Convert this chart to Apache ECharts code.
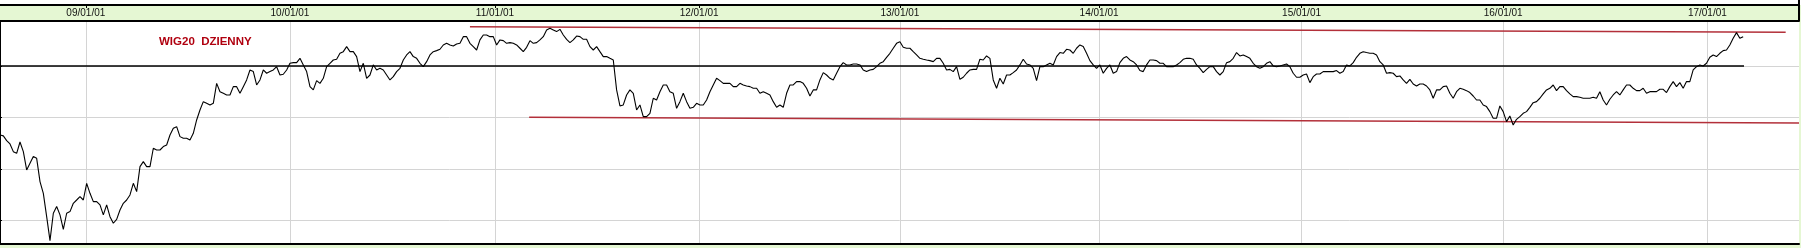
<!DOCTYPE html>
<html><head><meta charset="utf-8">
<script src="https://cdn.jsdelivr.net/npm/echarts@6/dist/echarts.min.js"></script>
<style>html,body{margin:0;padding:0;background:#e5f7d3;overflow:hidden}#c{width:1801px;height:248px}</style>
</head><body><div id="c"></div>
<script>
// WIG20 daily closes, sampled every 4 sessions (index points)
const sessionStep = 4;
const closes2008_09 = [2329,2320,2274,2242,2167,2151,2261,2167,1989,2054,2119,2102,1876,1762,1535,1302,1568,1633,1552,1412,1568,1584,1665,1697,1730,1697,1859,1762,1681,1681,1649,1552,1649,1535,1471,1509,1600,1665,1697,1746,1859,1778,2021,2070,2021,2021,2200,2183,2183,2216,2232,2329,2394,2410,2313,2297,2297,2281,2345,2475,2572,2653,2637,2621,2637,2831,2750,2734,2718,2718,2799,2799,2734,2799,2864];
const closes2009_10 = [2961,2945,2815,2864,2961,2929,2945,2961,2993,2912,2919,2961,3026,3032,3032,3074,3010,2945,2799,2767,2857,2831,2880,2993,3026,3058,3065,3123,3139,3188,3139,3139,3091,2945,3026,2880,2912,3010,2961,2977,2961,2912,2864,2896,2945,2977,3058,3107,3139,3091,3074,3026,2993,3042,3107,3139,3149,3162,3204,3220,3204,3194,3214,3220,3285,3285,3220,3188,3155,3253,3301,3301,3285,3285,3204];
const closes2011_12 = [3253,3246,3220,3227,3220,3204,3172,3139,3181,3246,3220,3227,3253,3285,3350,3366,3350,3334,3356,3301,3259,3227,3253,3291,3285,3259,3259,3188,3155,3188,3139,3091,3091,3074,3058,2767,2611,2621,2718,2767,2734,2572,2621,2507,2507,2540,2686,2669,2750,2815,2815,2750,2734,2588,2653,2734,2653,2588,2598,2637,2621,2621,2669,2750,2815,2880,2857,2831,2831,2831,2799,2799,2831,2815,2805];
const closes2012_13 = [2799,2783,2783,2734,2750,2734,2718,2653,2598,2621,2598,2734,2815,2815,2848,2848,2831,2783,2708,2767,2767,2864,2935,2912,2880,2864,2929,2993,3032,3010,3010,3019,3019,3010,2961,2945,2961,2967,2993,3026,3042,3084,3123,3172,3220,3236,3181,3172,3172,3139,3107,3074,3065,3058,3052,3042,3074,3074,3026,2961,2967,2945,2993,2870,2890,2929,2961,2967,2967,3065,3058,3097,3074,2864,2783];
const closes2013_14 = [2880,2825,2912,2912,2935,2961,3010,3065,3019,3010,2977,2857,2993,2993,3010,3026,3010,3091,3130,3123,3162,3155,3123,3172,3204,3188,3123,3052,3010,2977,3010,2929,2977,3010,2929,2945,3032,3074,3091,3058,3042,3010,2955,2945,3010,3058,3058,3052,3026,3026,2993,2993,2993,3010,3032,3065,3074,3074,3065,3010,2977,2935,2967,2993,2993,2945,2912,2945,3032,3042,3074,3130,3097,3107,3091];
const closes2014_15 = [3074,3026,2993,2977,2993,3026,3042,3000,2993,3000,3010,3019,2993,2929,2890,2890,2912,2922,2838,2896,2922,2922,2945,2945,2945,2945,2955,2929,2945,3010,3000,3032,3084,3123,3139,3130,3123,3123,3107,3042,3010,2929,2935,2929,2896,2903,2864,2831,2870,2825,2805,2825,2825,2805,2767,2686,2767,2767,2799,2805,2734,2686,2750,2783,2773,2760,2741,2708,2669,2669,2621,2605,2556,2491,2491];
const closes2016_17 = [2611,2556,2459,2514,2426,2481,2507,2540,2556,2598,2643,2653,2686,2728,2767,2783,2815,2760,2799,2799,2760,2728,2702,2702,2695,2686,2686,2686,2695,2686,2750,2669,2621,2676,2718,2750,2718,2767,2815,2815,2783,2760,2760,2783,2734,2750,2750,2750,2773,2773,2741,2799,2848,2799,2838,2783,2848,2848,2961,2993,3010,3000,3026,3084,3107,3091,3123,3149,3155,3204,3269,3324,3269,3285];

const yearTickSessions = [103, 348, 594, 839, 1080, 1319, 1562, 1804, 2049];
const yearTickLabels = ['09/01/01','10/01/01','11/01/01','12/01/01','13/01/01','14/01/01','15/01/01','16/01/01','17/01/01'];
const gridLevels = [1500, 2000, 2500, 3000];
const sessionRange = [0, 2159];
const valueRange = [1276, 3437];
const resistanceLine = [[564, 3381], [2143, 3327]];
const supportLine = [[635, 2501], [2159, 2446]];
const referenceLevel = [[0, 3000], [2093, 3000]];
const titleText = 'WIG20  DZIENNY';

const closes = [].concat(closes2008_09, closes2009_10, closes2011_12, closes2012_13, closes2013_14, closes2014_15, closes2016_17);
const seriesData = closes.map((v, i) => [i * sessionStep, v]);

const chart = echarts.init(document.getElementById('c'), null, {renderer: 'canvas'});
const FONT = '"Liberation Sans", Arial, sans-serif';
const baseX = {
  type: 'value', min: sessionRange[0], max: sessionRange[1], gridIndex: 0,
  axisLabel: {show: false}, axisTick: {show: false}, splitLine: {show: false},
  axisLine: {show: true, lineStyle: {color: '#000', width: 2}}
};
const redLine = {color: '#b3303a', width: 1.6, type: 'solid'};
chart.setOption({
  animation: false,
  backgroundColor: '#e5f7d3',
  title: {
    text: titleText, left: 154, top: 31,
    textStyle: {color: '#b0000f', fontSize: 11.5, fontWeight: 'bold', fontFamily: FONT}
  },
  graphic: [
    {type: 'rect', z: -10, shape: {x: 0, y: 0, width: 1801, height: 5}, style: {fill: '#fff'}},
    {type: 'line', z: 10, shape: {x1: 1799, y1: 0, x2: 1799, y2: 21}, style: {stroke: '#000', lineWidth: 2}}
  ],
  grid: {left: 0, top: 21, width: 1799, bottom: 4.7, show: true, backgroundColor: '#fff', borderWidth: 0, containLabel: false},
  xAxis: [
    Object.assign({}, baseX, {
      position: 'top', offset: 16,
      axisTick: {show: true, inside: true, length: 3, customValues: yearTickSessions, lineStyle: {color: '#000', width: 1}},
      axisLabel: {show: true, inside: true, margin: 3, customValues: yearTickSessions, color: '#111', fontSize: 10, fontFamily: FONT,
        formatter: v => yearTickLabels[yearTickSessions.indexOf(v)] || ''},
      splitLine: {show: true, lineStyle: {color: '#d4d4d4', width: 1}}
    }),
    Object.assign({}, baseX, {position: 'top', offset: 0}),
    Object.assign({}, baseX, {position: 'bottom', offset: 0})
  ],
  yAxis: {
    type: 'value', position: 'right', min: valueRange[0], max: valueRange[1],
    axisLine: {show: true, lineStyle: {color: '#000', width: 2}},
    axisTick: {show: true, inside: false, length: 2, customValues: gridLevels, lineStyle: {color: '#000'}},
    axisLabel: {show: false, customValues: gridLevels},
    splitLine: {show: true, lineStyle: {color: '#d4d4d4', width: 1}}
  },
  series: [{
    type: 'line', xAxisIndex: 0, data: seriesData, showSymbol: false, symbol: 'none',
    lineStyle: {color: '#000', width: 1.1}, z: 5,
    markLine: {
      silent: true, symbol: 'none', label: {show: false}, animation: false,
      lineStyle: {type: 'solid'},
      data: [
        [{coord: resistanceLine[0], lineStyle: redLine}, {coord: resistanceLine[1]}],
        [{coord: supportLine[0], lineStyle: redLine}, {coord: supportLine[1]}],
        [{coord: referenceLevel[0], lineStyle: {color: '#000', width: 1.5, type: 'solid'}}, {coord: referenceLevel[1]}]
      ]
    }
  }]
});
</script></body></html>
